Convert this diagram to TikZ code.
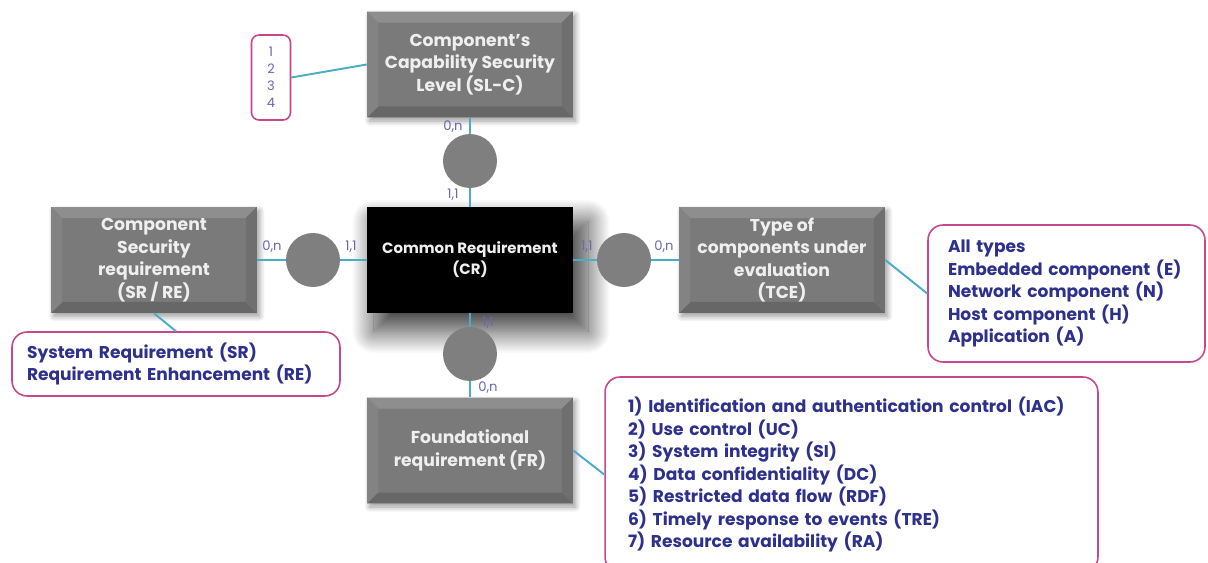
\documentclass[tikz,border=0pt]{standalone}
\usepackage{fontspec}
\setmainfont{Poppins}
\usetikzlibrary{shadows.blur}

\definecolor{boxface}{HTML}{7A7A7A}
\definecolor{beveltop}{HTML}{8E8E8E}
\definecolor{bevelleft}{HTML}{838383}
\definecolor{bevelright}{HTML}{6F6F6F}
\definecolor{bevelbottom}{HTML}{676767}
\definecolor{boxfg}{HTML}{EFEFEF}
\definecolor{linkteal}{RGB}{75,172,198}
\definecolor{navytext}{RGB}{46,49,140}
\definecolor{cardtext}{RGB}{104,104,172}
\definecolor{framemag}{RGB}{200,70,140}
\definecolor{relgray}{HTML}{7F7F7F}

\def\bw{0.22cm}

\tikzset{
  x=0.02cm, y=-0.02cm,
  entity/.style={
    minimum width=4.12cm, minimum height=2.12cm, inner sep=0pt,
    fill=boxface, text=boxfg, align=center,
    font=\bfseries\fontsize{9.8}{12.8}\selectfont,
    blur shadow={shadow xshift=1.5pt, shadow yshift=-2pt,
                 shadow blur radius=3pt, shadow blur steps=12, shadow opacity=40},
    path picture={
      \fill[beveltop] (path picture bounding box.north west) -- (path picture bounding box.north east)
        -- ([shift={(-\bw,-\bw)}]path picture bounding box.north east)
        -- ([shift={(\bw,-\bw)}]path picture bounding box.north west) -- cycle;
      \fill[bevelbottom] (path picture bounding box.south west) -- (path picture bounding box.south east)
        -- ([shift={(-\bw,\bw)}]path picture bounding box.south east)
        -- ([shift={(\bw,\bw)}]path picture bounding box.south west) -- cycle;
      \fill[bevelleft] (path picture bounding box.north west) -- (path picture bounding box.south west)
        -- ([shift={(\bw,\bw)}]path picture bounding box.south west)
        -- ([shift={(\bw,-\bw)}]path picture bounding box.north west) -- cycle;
      \fill[bevelright] (path picture bounding box.north east) -- (path picture bounding box.south east)
        -- ([shift={(-\bw,\bw)}]path picture bounding box.south east)
        -- ([shift={(-\bw,-\bw)}]path picture bounding box.north east) -- cycle;
    }},
  mainentity/.style={
    minimum width=4.12cm, minimum height=2.12cm, inner sep=0pt,
    fill=black, text=boxfg, align=center,
    font=\bfseries\fontsize{8.5}{11.9}\selectfont,
    blur shadow={shadow xshift=6pt, shadow yshift=-9pt,
                 shadow blur radius=12pt, shadow blur steps=30, shadow opacity=75,
                 shadow scale=1.04}},
  relation/.style={circle, fill=relgray, minimum size=1.08cm, inner sep=0pt},
  card/.style={text=cardtext, font=\fontsize{7.5}{8}\selectfont, inner sep=0pt},
  infobox/.style={draw=framemag, line width=0.9pt, fill=white, rounded corners=0.3cm,
    text=navytext, align=left, font=\bfseries\fontsize{9.7}{12.8}\selectfont},
  link/.style={draw=linkteal, line width=1.1pt}
}

\begin{document}
\begin{tikzpicture}
\clip (0,0) rectangle (1208,562);

% entities
\node[entity] (slc) at (470,64.5) {Component's\\Capability Security\\Level (SL-C)};
\node[mainentity] (cr) at (470,260) {Common Requirement\\(CR)};
\node[entity] (csr) at (154,260) {Component\\Security\\requirement\\(SR / RE)};
\node[entity] (tce) at (782,260) {Type of\\components under\\evaluation\\(TCE)};
\node[entity] (fr) at (470,450.5) {Foundational\\requirement (FR)};

% relations
\node[relation] (ctop) at (470,161) {};
\node[relation] (cleft) at (313,260) {};
\node[relation] (cright) at (624,260) {};
\node[relation] (cbot) at (470,354) {};

% value lists
\node[infobox, minimum width=0.78cm, minimum height=1.7cm, inner sep=0pt, align=center,
      text=cardtext, font=\fontsize{7.4}{9.6}\selectfont, rounded corners=0.15cm]
  (ilevel) at (271,77.5) {1\\2\\3\\4};
\node[infobox, minimum width=6.56cm, minimum height=1.28cm, inner xsep=0.3cm,
      text width=5.96cm] (isr) at (176,364) {System Requirement (SR)\\Requirement Enhancement (RE)};
\node[infobox, minimum width=5.54cm, minimum height=2.74cm, inner xsep=0.4cm,
      text width=4.74cm] (itce) at (1066.5,293.5)
  {All types\\Embedded component (E)\\Network component (N)\\Host component (H)\\Application (A)};
\node[infobox, minimum width=9.86cm, minimum height=3.9cm, inner xsep=0.46cm,
      text width=8.94cm] (ifr) at (851.5,474.5)
  {1) Identification and authentication control (IAC)\\2) Use control (UC)\\3) System integrity (SI)\\4) Data confidentiality (DC)\\5) Restricted data flow (RDF)\\6) Timely response to events (TRE)\\7) Resource availability (RA)};

% connectors
\draw[link] (slc) -- (ctop);
\draw[link] (ctop) -- (cr);
\draw[link] (csr) -- (cleft);
\draw[link] (cleft) -- (cr);
\draw[link] (cr) -- (cright);
\draw[link] (cright) -- (tce);
\draw[link] (cr) -- (cbot);
\draw[link] (cbot) -- (fr);
\draw[link] (ilevel.east) -- (slc.west);
\draw[link] (csr.south) -- (isr.north);
\draw[link] (tce.east) -- (itce.west);
\draw[link] (fr.east) -- (ifr.west);

% cardinalities
\node[card] (k1) at (453,127) {0,n};
\node[card] (k2) at (453,195) {1,1};
\node[card] (k3) at (272,247) {0,n};
\node[card] (k4) at (351,247) {1,1};
\node[card] (k5) at (587,247) {1,1};
\node[card] (k6) at (664,247) {0,n};
\node[card] (k7) at (488,323) {1,1};
\node[card] (k8) at (488,388) {0,n};
\end{tikzpicture}
\end{document}
